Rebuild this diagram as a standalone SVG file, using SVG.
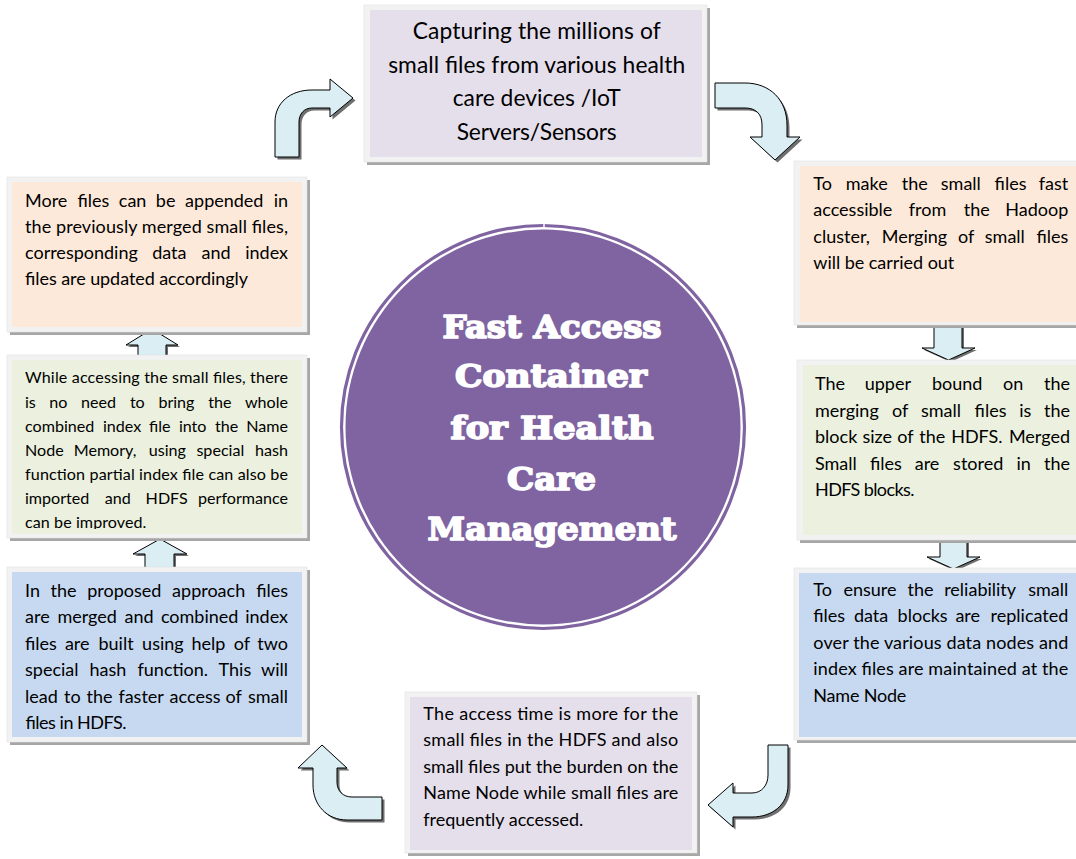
<svg xmlns="http://www.w3.org/2000/svg" xmlns:xlink="http://www.w3.org/1999/xlink" width="1076" height="859" viewBox="0 0 1076 859">
  <style>
    .shadow { fill: #a6a6a6; }
    .frame { fill: #f2f2f2; stroke: #e2e2e2; stroke-width: 0.6; }
    .lav { fill: #e5dfec; }
    .peach { fill: #fde9d9; }
    .green { fill: #ebf1de; }
    .blue { fill: #c6d9f1; }
    .t { font-family: Lato, "Liberation Sans", sans-serif; fill: #000; }
    .b { font-size: 18px; }
    .s { font-size: 16.1px; }
    .h { font-size: 22.8px; text-anchor: middle; }
    .e { text-anchor: end; }
    .title { font-family: "DejaVu Serif", "Liberation Serif", serif; font-weight: bold; font-size: 32px; fill: #fff; stroke: #fff; stroke-width: 1.7; stroke-linejoin: round; text-anchor: middle; }
    .arrow { fill: #daeef3; stroke: #000; stroke-width: 1; stroke-linejoin: miter; }
    .ash { fill: #6f6f6f; stroke: none; }
  </style>
  <defs>
    <!-- block arrows, reused for their drop shadows -->
    <path id="up1" d="M138,358 L138,345 L126,345 L152,329 L178,345 L166,345 L166,358 Z"/>
    <path id="up2" d="M145,569 L145,554 L133,554 L160,539 L187,554 L174,554 L174,569 Z"/>
    <path id="dn1" d="M934,320 L962,320 L962,348 L975,348 L948.5,360 L922,348 L934,348 Z"/>
    <path id="dn2" d="M940,538 L967,538 L967,557 L980,557 L953.5,569 L927,557 L940,557 Z"/>
    <path id="bentTL" d="M275,157 L275,122 C275,103 290,90 312,90 L330,90 L330,79 L353,98 L330,117 L330,108 L312,108 C304,108 299,114 299,122 L299,157 Z"/>
    <path id="bentTR" d="M715,83 L745,83 C770,83 787,100 787,125 L787,137 L800,137 L775,160 L750,137 L762,137 L762,125 C762,114 756,108 745,108 L715,108 Z"/>
    <path id="bentBR" d="M768,745 L788,745 L788,785 C788,805 772,817 752,817 L733,817 L733,827 L708,805 L733,783 L733,793 L752,793 C762,793 768,785 768,775 Z"/>
    <path id="bentBL" d="M382,797 L352,797 C343,797 337,791 337,782 L337,768 L347,768 L322,745 L298,768 L313,768 L313,785 C313,805 327,820 347,820 L382,820 Z"/>
    <clipPath id="clipMidLeft"><rect x="12" y="360" width="290" height="169"/></clipPath>
  </defs>

  <rect width="1076" height="859" fill="#fff"/>

  <!-- connectors -->
  <g id="connectors">
    <use href="#up1" class="ash" transform="translate(2,2)"/>
    <use href="#up1" class="arrow"/>
    <use href="#up2" class="ash" transform="translate(2,2)"/>
    <use href="#up2" class="arrow"/>
    <use href="#dn1" class="ash" transform="translate(2,2)"/>
    <use href="#dn1" class="arrow"/>
    <use href="#dn2" class="ash" transform="translate(2,2)"/>
    <use href="#dn2" class="arrow"/>
    <use href="#bentTL" class="ash" transform="translate(2.5,2.5)"/>
    <use href="#bentTL" class="arrow"/>
    <use href="#bentTR" class="ash" transform="translate(2.5,2.5)"/>
    <use href="#bentTR" class="arrow"/>
    <use href="#bentBR" class="ash" transform="translate(2.5,2.5)"/>
    <use href="#bentBR" class="arrow"/>
    <use href="#bentBL" class="ash" transform="translate(2.5,2.5)"/>
    <use href="#bentBL" class="arrow"/>
  </g>

  <!-- central hub -->
  <g id="hub">
    <circle cx="543" cy="427" r="201.5" fill="none" stroke="#8064a2" stroke-width="3.2"/>
    <circle cx="543" cy="427" r="197.5" fill="#8064a2"/>
    <line x1="544" y1="223" x2="544" y2="229" stroke="#fff" stroke-width="1.5"/>
    <text class="title" x="552" y="337.5" textLength="219" lengthAdjust="spacingAndGlyphs">Fast Access</text>
    <text class="title" x="551" y="387" textLength="192" lengthAdjust="spacingAndGlyphs">Container</text>
    <text class="title" x="552" y="438.5" textLength="203" lengthAdjust="spacingAndGlyphs">for Health</text>
    <text class="title" x="551.5" y="489.5" textLength="89" lengthAdjust="spacingAndGlyphs">Care</text>
    <text class="title" x="552" y="540" textLength="249" lengthAdjust="spacingAndGlyphs">Management</text>
  </g>

  <!-- capture step -->
  <g id="capture">
    <rect class="shadow" x="367" y="8" width="343" height="157"/>
    <rect class="frame" x="364" y="5" width="343" height="157"/>
    <rect class="lav" x="370" y="10" width="332" height="147"/>
    <text class="t h" x="536.7" y="39" textLength="248" lengthAdjust="spacing">Capturing the millions of</text>
    <text class="t h" x="536.7" y="72.5" textLength="297" lengthAdjust="spacing">small files from various health</text>
    <text class="t h" x="536.7" y="106" textLength="168" lengthAdjust="spacing">care devices /IoT</text>
    <text class="t h" x="536.7" y="139.5" textLength="160" lengthAdjust="spacing">Servers/Sensors</text>
  </g>

  <!-- merging step -->
  <g id="merge">
    <rect class="shadow" x="797" y="164" width="300" height="164"/>
    <rect class="frame" x="794" y="161" width="300" height="164"/>
    <rect class="peach" x="800" y="166" width="300" height="156"/>
    <text class="t b" y="190"><tspan x="813.3">To</tspan><tspan x="845.8">make</tspan><tspan x="901.7">the</tspan><tspan x="940.8">small</tspan><tspan x="994.6">files</tspan><tspan class="e" x="1068.3">fast</tspan></text>
    <text class="t b" y="216.3"><tspan x="813.3">accessible</tspan><tspan x="908.7">from</tspan><tspan x="963.7">the</tspan><tspan class="e" x="1068.3">Hadoop</tspan></text>
    <text class="t b" y="242.5"><tspan x="813.3">cluster,</tspan><tspan x="881.8">Merging</tspan><tspan x="957.9">of</tspan><tspan x="984.8">small</tspan><tspan class="e" x="1068.3">files</tspan></text>
    <text class="t b" x="813.3" y="268.6" textLength="141" lengthAdjust="spacing">will be carried out</text>
  </g>

  <!-- block size step -->
  <g id="blocksize">
    <rect class="shadow" x="800" y="363" width="300" height="180"/>
    <rect class="frame" x="797" y="360" width="300" height="180"/>
    <rect class="green" x="803" y="365" width="300" height="170"/>
    <text class="t b" y="390"><tspan x="815">The</tspan><tspan x="864.7">upper</tspan><tspan x="931.9">bound</tspan><tspan x="1003">on</tspan><tspan class="e" x="1070">the</tspan></text>
    <text class="t b" y="416.5"><tspan x="815">merging</tspan><tspan x="892.1">of</tspan><tspan x="920.9">small</tspan><tspan x="974.6">files</tspan><tspan x="1019.2">is</tspan><tspan class="e" x="1070">the</tspan></text>
    <text class="t b" y="443"><tspan x="815">block</tspan><tspan x="862.4">size</tspan><tspan x="897.3">of</tspan><tspan x="919.2">the</tspan><tspan x="951.2">HDFS.</tspan><tspan class="e" x="1070">Merged</tspan></text>
    <text class="t b" y="469.5"><tspan x="815">Small</tspan><tspan x="870">files</tspan><tspan x="914.7">are</tspan><tspan x="953.1">stored</tspan><tspan x="1016.4">in</tspan><tspan class="e" x="1070">the</tspan></text>
    <text class="t b" x="815" y="496" textLength="99.5" lengthAdjust="spacing">HDFS blocks.</text>
  </g>

  <!-- replication step -->
  <g id="replication">
    <rect class="shadow" x="797" y="571" width="300" height="172"/>
    <rect class="frame" x="794" y="568" width="300" height="172"/>
    <rect class="blue" x="799" y="573" width="300" height="164"/>
    <text class="t b" y="595.5"><tspan x="813.3">To</tspan><tspan x="843.4">ensure</tspan><tspan x="907.5">the</tspan><tspan x="944.2">reliability</tspan><tspan class="e" x="1068.3">small</tspan></text>
    <text class="t b" y="622"><tspan x="813.3">files</tspan><tspan x="853.9">data</tspan><tspan x="897.6">blocks</tspan><tspan x="955.4">are</tspan><tspan class="e" x="1068.3">replicated</tspan></text>
    <text class="t b" x="813.3" y="648.5" textLength="255" lengthAdjust="spacing">over the various data nodes and</text>
    <text class="t b" x="813.3" y="675" textLength="255" lengthAdjust="spacing">index files are maintained at the</text>
    <text class="t b" x="813.3" y="701.5" textLength="93" lengthAdjust="spacing">Name Node</text>
  </g>

  <!-- access time step -->
  <g id="accesstime">
    <rect class="shadow" x="408" y="695" width="292" height="161"/>
    <rect class="frame" x="405" y="692" width="292" height="161"/>
    <rect class="lav" x="410" y="697" width="282" height="153"/>
    <text class="t b" x="423.3" y="719.8" textLength="255" lengthAdjust="spacing">The access time is more for the</text>
    <text class="t b" x="423.3" y="746.3" textLength="255" lengthAdjust="spacing">small files in the HDFS and also</text>
    <text class="t b" x="423.3" y="772.8" textLength="255" lengthAdjust="spacing">small files put the burden on the</text>
    <text class="t b" x="423.3" y="799.3" textLength="255" lengthAdjust="spacing">Name Node while small files are</text>
    <text class="t b" x="423.3" y="825.8" textLength="160" lengthAdjust="spacing">frequently accessed.</text>
  </g>

  <!-- proposed approach step -->
  <g id="approach">
    <rect class="shadow" x="10" y="570" width="300" height="175"/>
    <rect class="frame" x="7" y="567" width="300" height="175"/>
    <rect class="blue" x="12" y="572" width="290" height="165"/>
    <text class="t b" y="596.5"><tspan x="25">In</tspan><tspan x="50.5">the</tspan><tspan x="87.2">proposed</tspan><tspan x="172.1">approach</tspan><tspan class="e" x="288">files</tspan></text>
    <text class="t b" y="623"><tspan x="25">are</tspan><tspan x="57.4">merged</tspan><tspan x="124.6">and</tspan><tspan x="160.9">combined</tspan><tspan class="e" x="288">index</tspan></text>
    <text class="t b" y="649.5"><tspan x="25">files</tspan><tspan x="64.9">are</tspan><tspan x="98.5">built</tspan><tspan x="142.1">using</tspan><tspan x="191.4">help</tspan><tspan x="233.7">of</tspan><tspan class="e" x="288">two</tspan></text>
    <text class="t b" y="676"><tspan x="25">special</tspan><tspan x="89.4">hash</tspan><tspan x="137.5">function.</tspan><tspan x="218.6">This</tspan><tspan class="e" x="288">will</tspan></text>
    <text class="t b" y="702.5"><tspan x="25">lead</tspan><tspan x="64.1">to</tspan><tspan x="86.5">the</tspan><tspan x="118.4">faster</tspan><tspan x="169.6">access</tspan><tspan x="225.4">of</tspan><tspan class="e" x="288">small</tspan></text>
    <text class="t b" x="25" y="729" textLength="101" lengthAdjust="spacing">files in HDFS.</text>
  </g>

  <!-- partial index step -->
  <g id="partialindex">
    <rect class="shadow" x="10" y="358" width="300" height="183"/>
    <rect class="frame" x="7" y="355" width="300" height="183"/>
    <rect class="green" x="12" y="360" width="290" height="174"/>
    <g clip-path="url(#clipMidLeft)">
      <text class="t s" x="25" y="383.3" textLength="263" lengthAdjust="spacing">While accessing the small files, there</text>
      <text class="t s" y="407.5"><tspan x="25">is</tspan><tspan x="49.3">no</tspan><tspan x="81.1">need</tspan><tspan x="129.9">to</tspan><tspan x="158.4">bring</tspan><tspan x="208.2">the</tspan><tspan class="e" x="288">whole</tspan></text>
      <text class="t s" y="431.7"><tspan x="25">combined</tspan><tspan x="102.9">index</tspan><tspan x="149">file</tspan><tspan x="178.9">into</tspan><tspan x="214.9">the</tspan><tspan class="e" x="288">Name</tspan></text>
      <text class="t s" y="456"><tspan x="25">Node</tspan><tspan x="73.7">Memory,</tspan><tspan x="148.7">using</tspan><tspan x="196.4">special</tspan><tspan class="e" x="288">hash</tspan></text>
      <text class="t s" x="25" y="480" textLength="263" lengthAdjust="spacing">function partial index file can also be</text>
      <text class="t s" y="504.2"><tspan x="25">imported</tspan><tspan x="104.7">and</tspan><tspan x="145.6">HDFS</tspan><tspan class="e" x="288">performance</tspan></text>
      <text class="t s" x="25" y="528.4" textLength="121.4" lengthAdjust="spacing">can be improved.</text>
    </g>
  </g>

  <!-- append step -->
  <g id="append">
    <rect class="shadow" x="10" y="180" width="300" height="155"/>
    <rect class="frame" x="7" y="177" width="300" height="155"/>
    <rect class="peach" x="12" y="182" width="290" height="145"/>
    <text class="t b" y="206.5"><tspan x="25">More</tspan><tspan x="77.4">files</tspan><tspan x="118.8">can</tspan><tspan x="155.8">be</tspan><tspan x="185.1">appended</tspan><tspan class="e" x="288">in</tspan></text>
    <text class="t b" x="25" y="232.8" textLength="263" lengthAdjust="spacing">the previously merged small files,</text>
    <text class="t b" y="259.1"><tspan x="25">corresponding</tspan><tspan x="152.2">data</tspan><tspan x="201.6">and</tspan><tspan class="e" x="288">index</tspan></text>
    <text class="t b" x="25" y="285.4" textLength="223" lengthAdjust="spacing">files are updated accordingly</text>
  </g>
</svg>
